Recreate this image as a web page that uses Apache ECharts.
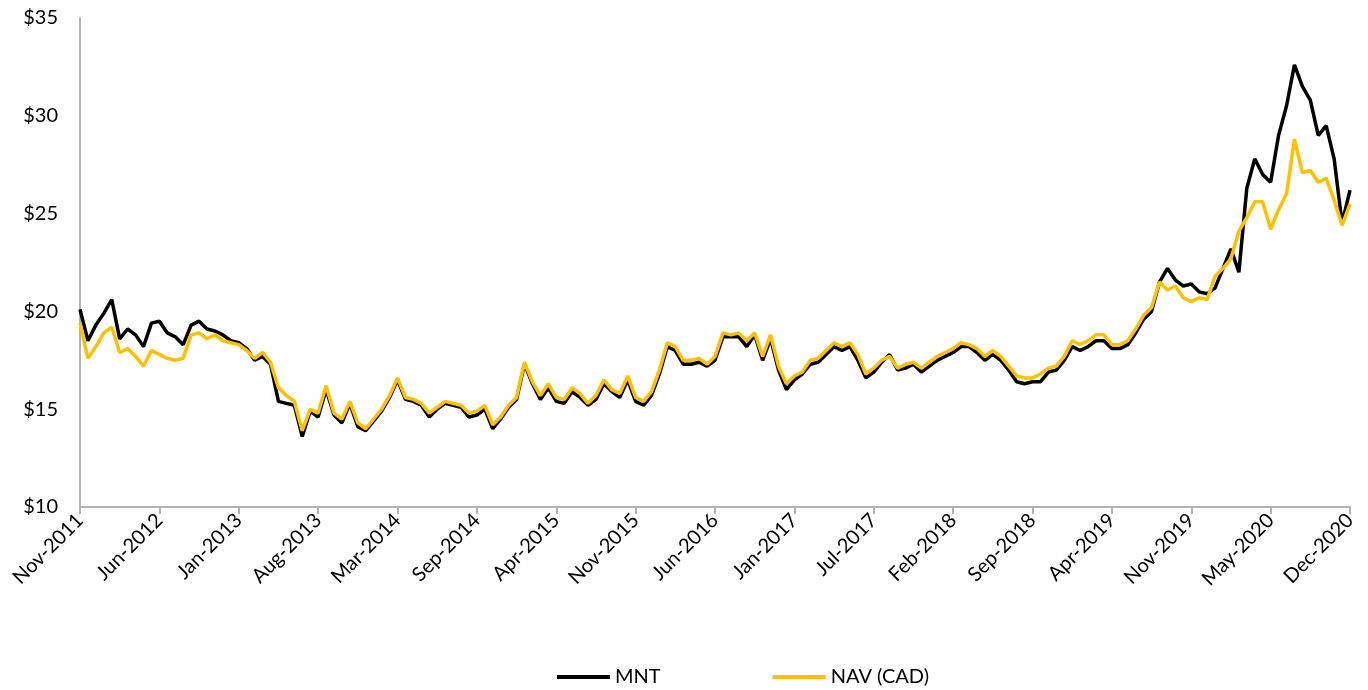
<!DOCTYPE html>
<html>
<head>
<meta charset="utf-8">
<script src="https://cdn.jsdelivr.net/npm/echarts@6/dist/echarts.min.js"></script>
<style>
html,body{margin:0;padding:0;background:#fff;}
#chart{width:1368px;height:690px;}
</style>
</head>
<body>
<div id="chart"></div>
<script>
const tickLabels = ["Nov-2011","Jun-2012","Jan-2013","Aug-2013","Mar-2014","Sep-2014","Apr-2015","Nov-2015","Jun-2016","Jan-2017","Jul-2017","Feb-2018","Sep-2018","Apr-2019","Nov-2019","May-2020","Dec-2020"];
const pointsPerLabel = 10;

const mnt = [
20.1,18.5,19.3,19.9,20.6,18.6,19.1,18.8,18.2,19.4,
19.5,18.9,18.7,18.3,19.3,19.5,19.1,19.0,18.8,18.5,
18.4,18.1,17.5,17.7,17.3,15.4,15.3,15.2,13.6,14.9,
14.6,16.0,14.7,14.3,15.3,14.1,13.9,14.4,14.9,15.6,
16.5,15.5,15.4,15.2,14.6,15.0,15.3,15.2,15.1,14.6,
14.7,15.0,14.0,14.5,15.1,15.5,17.3,16.3,15.5,16.1,
15.4,15.3,15.9,15.6,15.2,15.5,16.3,15.9,15.6,16.5,
15.4,15.2,15.7,16.8,18.2,18.0,17.3,17.3,17.4,17.2,
17.5,18.7,18.7,18.7,18.2,18.8,17.5,18.6,17.0,16.0,
16.5,16.8,17.3,17.4,17.8,18.2,18.0,18.2,17.5,16.6,
16.9,17.4,17.8,17.0,17.1,17.3,16.9,17.2,17.5,17.7,
17.9,18.2,18.2,17.9,17.5,17.8,17.5,17.0,16.4,16.3,
16.4,16.4,16.9,17.0,17.5,18.2,18.0,18.2,18.5,18.5,
18.1,18.1,18.3,18.9,19.6,20.0,21.5,22.2,21.6,21.3,
21.4,21.0,20.9,21.2,22.2,23.2,22.0,26.3,27.8,27.0,
26.6,29.0,30.5,32.6,31.5,30.8,29.0,29.5,27.8,24.5,
26.2
];

const nav = [
19.4,17.6,18.2,18.9,19.2,17.9,18.1,17.7,17.2,18.0,
17.8,17.6,17.5,17.6,18.8,18.9,18.6,18.8,18.5,18.4,
18.3,18.0,17.6,17.9,17.4,16.1,15.7,15.4,13.9,15.0,
14.8,16.2,14.8,14.5,15.4,14.3,14.0,14.5,15.0,15.7,
16.6,15.6,15.5,15.3,14.8,15.1,15.4,15.3,15.2,14.8,
14.9,15.2,14.2,14.6,15.2,15.6,17.4,16.4,15.7,16.3,
15.6,15.5,16.1,15.8,15.3,15.7,16.5,16.0,15.8,16.7,
15.6,15.4,15.9,17.0,18.4,18.2,17.5,17.5,17.6,17.3,
17.7,18.9,18.8,18.9,18.5,18.9,17.7,18.8,17.2,16.3,
16.7,16.9,17.5,17.6,18.0,18.4,18.2,18.4,17.8,16.8,
17.1,17.5,17.7,17.1,17.3,17.4,17.1,17.4,17.7,17.9,
18.1,18.4,18.3,18.1,17.7,18.0,17.7,17.2,16.7,16.6,
16.6,16.8,17.1,17.2,17.7,18.5,18.3,18.5,18.8,18.8,
18.3,18.3,18.5,19.1,19.8,20.2,21.5,21.1,21.3,20.7,
20.5,20.7,20.6,21.8,22.2,22.7,24.1,24.8,25.6,25.6,
24.2,25.2,26.0,28.8,27.1,27.2,26.6,26.8,25.7,24.4,
25.5
];

const categories = mnt.map((_, i) => (i % pointsPerLabel === 0 ? tickLabels[i / pointsPerLabel] : ''));

const FONT = 'Lato, "Open Sans", sans-serif';
const chart = echarts.init(document.getElementById('chart'), null, {renderer: 'canvas'});
chart.setOption({
  animation: false,
  backgroundColor: '#ffffff',
  textStyle: {fontFamily: FONT},
  grid: {left: 80, right: 18, top: 18, bottom: 183, containLabel: false},
  legend: {
    left: 552, top: 662, padding: 5,
    itemWidth: 53, itemHeight: 4, itemGap: 112, icon: 'rect',
    textStyle: {fontSize: 20, color: '#000', fontFamily: FONT},
    data: ['MNT', 'NAV (CAD)']
  },
  xAxis: {
    type: 'category',
    boundaryGap: false,
    data: categories,
    axisLine: {lineStyle: {color: '#B3B3B3', width: 2}},
    axisTick: {show: true, interval: pointsPerLabel - 1, length: 7, lineStyle: {color: '#B3B3B3', width: 2}},
    axisLabel: {interval: pointsPerLabel - 1, rotate: 45, fontSize: 20, color: '#000', margin: 10, fontFamily: FONT},
    splitLine: {show: false}
  },
  yAxis: {
    type: 'value',
    min: 10, max: 35, interval: 5,
    axisLine: {show: true, lineStyle: {color: '#B3B3B3', width: 2}},
    axisTick: {show: false},
    axisLabel: {formatter: v => '$' + v, fontSize: 20, color: '#000', margin: 22, fontFamily: FONT},
    splitLine: {show: false}
  },
  series: [
    {name: 'MNT', type: 'line', data: mnt, showSymbol: false, symbol: 'none', color: '#000000', lineStyle: {width: 3.5, color: '#000000'}},
    {name: 'NAV (CAD)', type: 'line', data: nav, showSymbol: false, symbol: 'none', color: '#FFC000', lineStyle: {width: 3.5, color: '#FFC000'}}
  ]
});
</script>
</body>
</html>
